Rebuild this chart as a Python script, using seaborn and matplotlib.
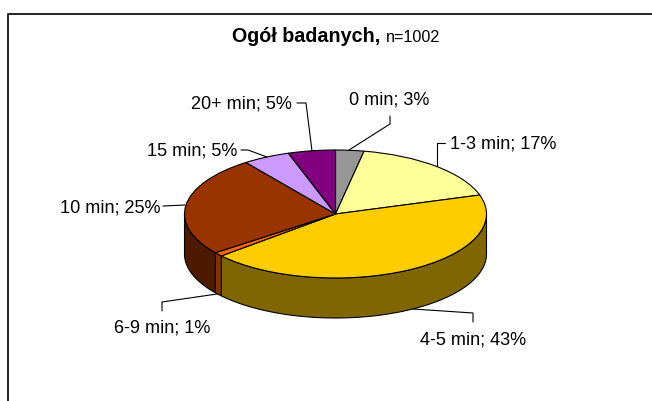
import numpy as np
import matplotlib
matplotlib.use('Agg')
import matplotlib.pyplot as plt
import seaborn as sns
from matplotlib.colors import to_rgb
from matplotlib.transforms import Affine2D

labels = ['0 min', '1-3 min', '4-5 min', '6-9 min', '10 min', '15 min', '20+ min']
values = [3, 17, 43, 1, 25, 5, 5]
colors = ['#969696', '#FFFF99', '#FFCC00', '#FF6600', '#993300', '#CC99FF', '#800080']

W, H = 652, 401
cx, cy, rx, ry, depth = 335.5, 214, 151, 64, 40

sns.set_theme(style='white')
plt.rcParams['font.family'] = ['Liberation Sans', 'DejaVu Sans']

fig = plt.figure(figsize=(W / 100, H / 100), dpi=100)
ax = fig.add_axes([0, 0, 1, 1])
wedges, _ = ax.pie(values, colors=colors, startangle=90, counterclock=False, radius=1,
                   wedgeprops=dict(edgecolor='black', linewidth=0.8, zorder=3))
# squash the pie into an ellipse, axes run in radius units
ax.set_aspect('auto')
ax.set_xlim(-cx / rx, (W - cx) / rx)
ax.set_ylim((cy - H) / ry, cy / ry)

# pixel coords for the text and leader lines
px = Affine2D().scale(1 / W, -1 / H).translate(0, 1) + ax.transAxes

# side wall of the pie, only the front half shows
d = depth / ry
for w, c in zip(wedges, colors):
    # clockwise pie gives negative thetas, so try both turns
    for off in (0, 360):
        a = max(w.theta1 + off, 180)
        b = min(w.theta2 + off, 360)
        if b <= a:
            continue
        t = np.radians(np.linspace(a, b, 60))
        xs = np.r_[np.cos(t), np.cos(t[::-1])]
        ys = np.r_[np.sin(t), np.sin(t[::-1]) - d]
        ax.fill(xs, ys, facecolor=tuple(v * 0.5 for v in to_rgb(c)), edgecolor='black', lw=0.8, zorder=2)

text_pos = [(349, 100), (450, 144), (420, 340), (114, 328), (60, 208), (147, 151), (191, 104)]
leaders = [
    [(349, 150), (390, 124), (390, 116)],
    [(437, 166), (437, 143), (445, 143)],
    [(413, 309), (473, 313), (473, 322)],
    [(217, 294), (162, 302), (162, 311)],
    [(185, 205), (163, 206)],
    [(267, 157), (248, 150), (241, 150)],
    [(312, 151), (306, 103), (297, 103)],
]
for lab, v, pos, line in zip(labels, values, text_pos, leaders):
    ax.text(pos[0], pos[1], f'{lab}; {v}%', transform=px, fontsize=13.1, ha='left', va='center', color='black')
    ax.plot([p[0] for p in line], [p[1] for p in line], transform=px, color='black', lw=0.8, zorder=4)

ax.text(232, 37, 'Ogół badanych,', transform=px, fontsize=14.2, fontweight='bold', ha='left', va='center', color='black')
ax.text(386, 38, 'n=1002', transform=px, fontsize=11.6, ha='left', va='center', color='black')

# chart frame, cut by the picture on the right and bottom
ax.plot([7.5, 7.5, W], [H, 14, 14], transform=px, color='black', lw=1.2, clip_on=False)

fig.savefig('out.png', dpi=100)
